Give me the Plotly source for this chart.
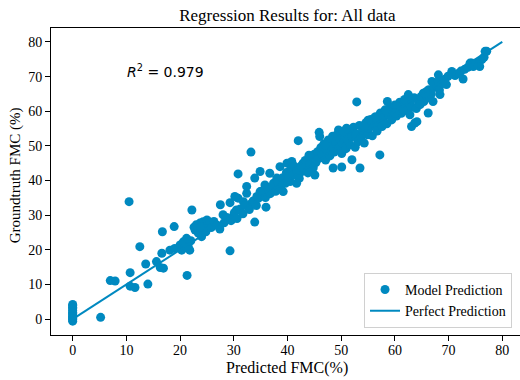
import plotly.graph_objects as go

COLOR = "#0089c0"

# Predicted FMC (%) and groundtruth FMC (%) (paired, same order)
pred_fmc = [
    # stack at 0
    0, 0, 0, 0, 0, 0, 0, 0, 0, 0, 0, 0, 0,
    # low, sparse
    5.2, 7.0, 7.9, 10.5, 10.7, 10.7, 11.6, 12.5, 13.6, 14.0, 15.6, 16.3, 16.9, 16.6, 16.7,
    18.9, 18.1, 19.0, 20.0, 20.6, 21.2, 20.3, 21.8, 21.3, 22.2, 22.8, 23.4, 23.7, 24.0,
    24.3, 25.0, 29.3, 21.5, 22.0, 20.8, 22.6, 23.0, 24.6, 25.2, 25.5, 24.8, 23.8,
    # 27-44
    27.5, 29.3, 28.0, 29.9, 30.8, 31.8, 32.4, 33.3, 34.3, 34.9, 35.5, 33.9, 34.9, 36.7,
    35.8, 37.4, 38.0, 38.6, 39.9, 40.8, 41.4, 39.2, 40.5, 41.7, 42.3, 42.9, 43.6,
    30.2, 32.4, 30.5, 30.8, 33.2, 33.9, 36.0, 42.0,
    # dense band
    25.8, 26.3, 26.9, 27.4, 28.2, 28.7, 29.5, 30.1,
    30.6, 31.2, 31.7, 32.1, 32.9, 33.6, 34.2, 34.6,
    35.2, 35.9, 36.3, 36.8, 37.3, 37.8, 38.2, 38.7, 39.1, 39.6, 39.8,
    40.2, 40.6, 41.0, 41.3, 41.8, 42.2, 42.6, 43.0, 43.3, 43.8, 44.1, 44.4, 44.8, 45.0,
    45.3, 45.6, 45.9, 46.2, 46.5, 46.8, 47.1, 47.3, 47.6, 47.9, 48.2, 48.4, 48.7, 49.0,
    49.3, 49.5, 49.8,
    50.1, 50.3, 50.6, 50.9, 51.2, 51.4, 51.7, 52.0, 52.3, 52.6, 52.8, 53.1, 53.4, 53.7,
    54.0, 54.3, 54.6, 54.9,
    55.2, 55.5, 55.8, 56.1, 56.4, 56.7, 57.0, 57.3, 57.6, 57.9, 58.2, 58.5, 58.8, 59.1,
    59.4, 59.7,
    60.0, 60.3, 60.6, 60.9, 61.2, 61.5, 61.8, 62.1, 62.4, 62.8, 63.2, 63.6, 64.0, 64.5, 64.9,
    65.4, 65.8, 66.3, 66.8, 67.2, 67.7, 68.3, 68.9, 69.3,
    71.2, 71.8, 72.3, 73.0, 73.6, 76.6,
    # upper & outlying points
    52.9, 58.6, 45.9, 46.0, 49.5, 50.4, 51.0, 52.0, 53.5, 57.2, 48.5, 50.1, 45.1,
    77.1, 76.2, 75.2, 74.3, 75.8, 74.6, 72.7, 70.6, 69.9, 69.6, 68.1, 66.9, 68.1, 68.4,
    65.9, 65.3, 64.4, 66.5, 62.5, 63.1, 64.7, 60.3, 61.6, 60.0, 58.2, 66.2, 64.1, 63.1, 63.7,
    65.6, 67.1, 69.3, 74.0, 76.8, 56.3, 55.0, 54.2, 47.0, 44.0,
]

truth_fmc = [
    # stack at 0
    -0.6, -0.2, 0.1, 0.4, 0.8, 1.2, 1.6, 2.0, 2.5, 3.0, 3.4, 3.9, 4.2,
    # low, sparse
    0.5, 11.1, 11.0, 33.9, 13.4, 9.5, 9.1, 20.9, 15.9, 10.1, 16.6, 14.9, 14.7, 19.0, 25.2,
    26.7, 19.9, 20.4, 21.4, 22.3, 23.3, 19.9, 19.9, 12.6, 31.5, 25.7, 24.8, 27.7, 23.8,
    28.1, 28.6, 19.7, 21.0, 22.6, 20.6, 26.5, 27.2, 26.0, 27.0, 28.0, 25.2, 26.6,
    # 27-44
    33.0, 33.6, 30.1, 29.6, 34.9, 33.9, 36.3, 33.4, 35.4, 36.8, 35.8, 40.7, 42.6, 42.1,
    38.7, 39.2, 40.7, 44.0, 45.0, 45.5, 42.6, 36.8, 39.7, 39.2, 42.1, 45.0, 43.1,
    35.4, 38.3, 31.5, 41.9, 48.2, 28.0, 32.3, 51.5,
    # dense band
    26.4, 28.2, 27.1, 26.0, 27.8, 29.3, 28.4, 30.7,
    29.0, 31.8, 30.4, 32.9, 31.6, 34.1, 32.8, 34.9,
    36.9, 35.1, 37.8, 36.2, 38.1, 36.9, 39.6, 37.9, 40.8, 39.2, 42.3,
    40.9, 43.2, 41.6, 44.1, 42.9, 40.6, 44.3, 43.4, 45.8, 42.2, 44.8, 46.9, 43.7, 47.6,
    45.2, 48.3, 46.4, 49.5, 47.3, 50.6, 45.9, 48.8, 51.7, 47.1, 49.9, 52.8, 48.2, 51.1,
    53.3, 49.4, 51.9,
    47.8, 50.7, 53.0, 49.2, 51.8, 54.2, 50.3, 52.6, 55.4, 49.6, 53.5, 51.2, 55.9, 52.4,
    54.6, 50.8, 56.7, 53.2,
    55.1, 57.6, 52.9, 56.0, 58.4, 54.3, 57.1, 59.5, 55.6, 58.2, 60.3, 56.4, 59.0, 61.1,
    57.5, 60.0,
    61.8, 58.6, 60.9, 62.6, 59.4, 61.7, 63.4, 60.2, 62.5, 59.0, 61.3, 63.9, 60.8, 62.4, 64.3,
    62.8, 64.6, 66.2, 65.0, 66.9, 67.4, 66.1, 68.0, 69.2,
    70.3, 70.9, 71.6, 72.1, 72.7, 75.6,
    # upper & outlying points
    62.7, 62.8, 53.9, 52.7, 54.6, 54.2, 55.1, 46.0, 43.6, 47.4, 43.6, 43.9, 41.6,
    77.3, 74.9, 73.9, 73.9, 72.9, 72.9, 69.3, 71.5, 70.1, 67.7, 70.5, 68.6, 68.6, 64.8,
    65.7, 65.2, 63.3, 63.8, 64.8, 63.3, 61.9, 61.4, 60.4, 59.5, 60.4, 59.5, 57.0, 55.6, 56.6,
    65.2, 62.8, 69.1, 73.9, 77.3, 58.2, 57.4, 55.8, 50.2, 47.3,
]

perfect_x = [0, 80]
perfect_y = [0, 80]

x_ticks = [0, 10, 20, 30, 40, 50, 60, 70, 80]
y_ticks = [0, 10, 20, 30, 40, 50, 60, 70, 80]
r2_value = 0.979

SERIF = "Liberation Serif, Times New Roman, serif"

fig = go.Figure()
fig.add_trace(go.Scatter(
    x=pred_fmc, y=truth_fmc, mode="markers", name="Model Prediction",
    marker=dict(color=COLOR, size=9, line=dict(width=0)),
))
fig.add_trace(go.Scatter(
    x=perfect_x, y=perfect_y, mode="lines", name="Perfect Prediction",
    line=dict(color=COLOR, width=2),
))

fig.update_layout(
    width=520, height=380,
    margin=dict(l=51, r=0, t=28, b=45),
    paper_bgcolor="white", plot_bgcolor="white",
    font=dict(family=SERIF, size=14, color="black"),
    title=dict(text="Regression Results for: All data", x=0.504, xref="paper",
               xanchor="center", y=1 - 15 / 380, yref="container", yanchor="middle",
               font=dict(family=SERIF, size=17, color="black")),
    xaxis=dict(range=[-4.04, 83.3], tickvals=x_ticks, showgrid=False, zeroline=False,
               showline=True, linecolor="black", linewidth=1, mirror=True,
               ticks="outside", ticklen=5, tickcolor="black", tickwidth=1,
               ticklabelstandoff=-3,
               tickfont=dict(family=SERIF, size=14)),
    yaxis=dict(range=[-4.6, 84.03], tickvals=y_ticks, showgrid=False, zeroline=False,
               showline=True, linecolor="black", linewidth=1,
               ticks="outside", ticklen=5, tickcolor="black", tickwidth=1,
               tickfont=dict(family=SERIF, size=14)),
    legend=dict(x=0.983, y=0.023, xanchor="right", yanchor="bottom",
                bgcolor="rgba(255,255,255,0.8)", bordercolor="#d0d0d0", borderwidth=1,
                font=dict(family=SERIF, size=14, color="black")),
    showlegend=True,
)

fig.add_annotation(text="Predicted FMC(%)", xref="paper", yref="paper",
                   x=0.504, y=(335 - 368) / 307, xanchor="center", yanchor="middle",
                   showarrow=False, font=dict(family=SERIF, size=16, color="black"))
fig.add_annotation(text="Groundtruth FMC (%)", xref="paper", yref="paper",
                   x=(15 - 51) / 469, y=0.52, xanchor="center", yanchor="middle",
                   textangle=-90, showarrow=False,
                   font=dict(family=SERIF, size=15, color="black"))
fig.add_annotation(text=f"<i>R</i><sup>2</sup> = {r2_value}", xref="x", yref="y",
                   x=9.75, y=71.7, xanchor="left", yanchor="middle", showarrow=False,
                   font=dict(family="DejaVu Sans", size=14, color="black"))

fig.write_html("out.html")
